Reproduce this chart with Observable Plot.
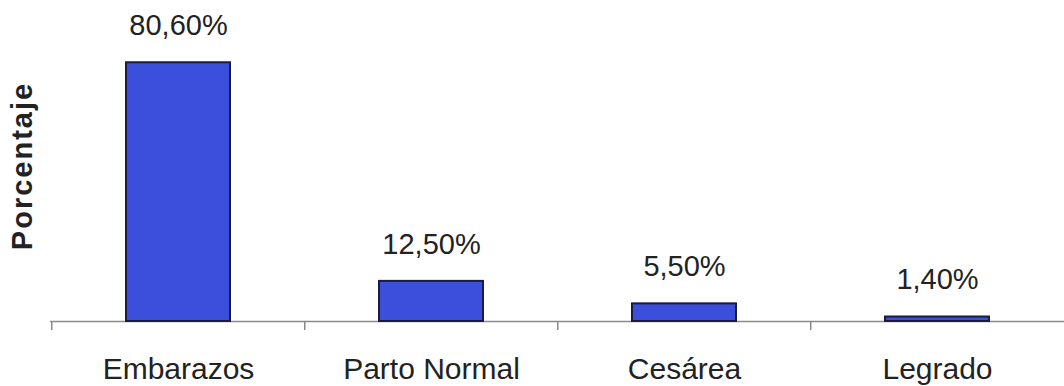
<!DOCTYPE html>
<html>
<head>
<meta charset="utf-8">
<script src="https://cdn.jsdelivr.net/npm/d3@7"></script>
<script src="https://cdn.jsdelivr.net/npm/@observablehq/plot@0.6"></script>
<style>
  body { margin: 0; background: #fff; }
  #chart { width: 1064px; height: 386px; }
  #chart svg { font-family: "Liberation Sans", Arial, sans-serif; }
</style>
</head>
<body>
<div id="chart"></div>
<script>
// Categories and their percentages
const categories = ["Embarazos", "Parto Normal", "Cesárea", "Legrado"];
const percentages = [80.6, 12.5, 5.5, 1.4];
const valueLabels = ["80,60%", "12,50%", "5,50%", "1,40%"];
const yLabel = "Porcentaje";

// Layout
const W = 1064, H = 386;
const mL = 50, mR = 0, mT = 0, mB = 65;
const xOpts = {type: "band", domain: categories, range: [mL, W - mR], paddingInner: 0.59, paddingOuter: 0.295};
const yOpts = {type: "linear", domain: [0, 100], range: [H - mB, mT]};

// Standalone copies of the scales, used to size the category separators
const xs = Plot.scale({x: xOpts});
const ys = Plot.scale({y: yOpts});
const tickLen = 9;
const tickBottom = ys.invert(H - mB + tickLen);

const data = categories.map((c, i) => ({category: c, value: percentages[i], label: valueLabels[i]}));

const chart = Plot.plot({
  width: W,
  height: H,
  marginLeft: mL,
  marginRight: mR,
  marginTop: mT,
  marginBottom: mB,
  x: {domain: categories, paddingInner: 0.59, paddingOuter: 0.295, axis: null},
  y: {domain: [0, 100], axis: null},
  marks: [
    // baseline
    Plot.ruleY([0], {stroke: "#8a8a8a", strokeWidth: 1.5}),
    // separators between categories (left edge of each band)
    Plot.ruleX(categories, {x: d => d, y1: 0, y2: tickBottom, dx: -xs.step / 2, stroke: "#8a8a8a", strokeWidth: 1.5}),
    // bars
    Plot.barY(data, {x: "category", y: "value", fill: "#3c4fdc", stroke: "#1b1b40", strokeWidth: 2}),
    // value labels
    Plot.text(data, {x: "category", y: "value", text: "label", dy: -37, fontSize: 29, fill: "#222"}),
    // category labels
    Plot.text(data, {x: "category", y: 0, text: "category", dy: 48, fontSize: 30, fill: "#222"}),
    // y axis title
    Plot.text([yLabel], {frameAnchor: "left", textAnchor: "middle", rotate: -90, dx: -28, dy: 5, fontSize: 29, fontWeight: "bold", fill: "#222"})
  ]
});

chart.querySelectorAll("text").forEach(t => {
  if (t.textContent === yLabel) t.style.letterSpacing = "2px";
});

document.getElementById("chart").appendChild(chart);
</script>
</body>
</html>
